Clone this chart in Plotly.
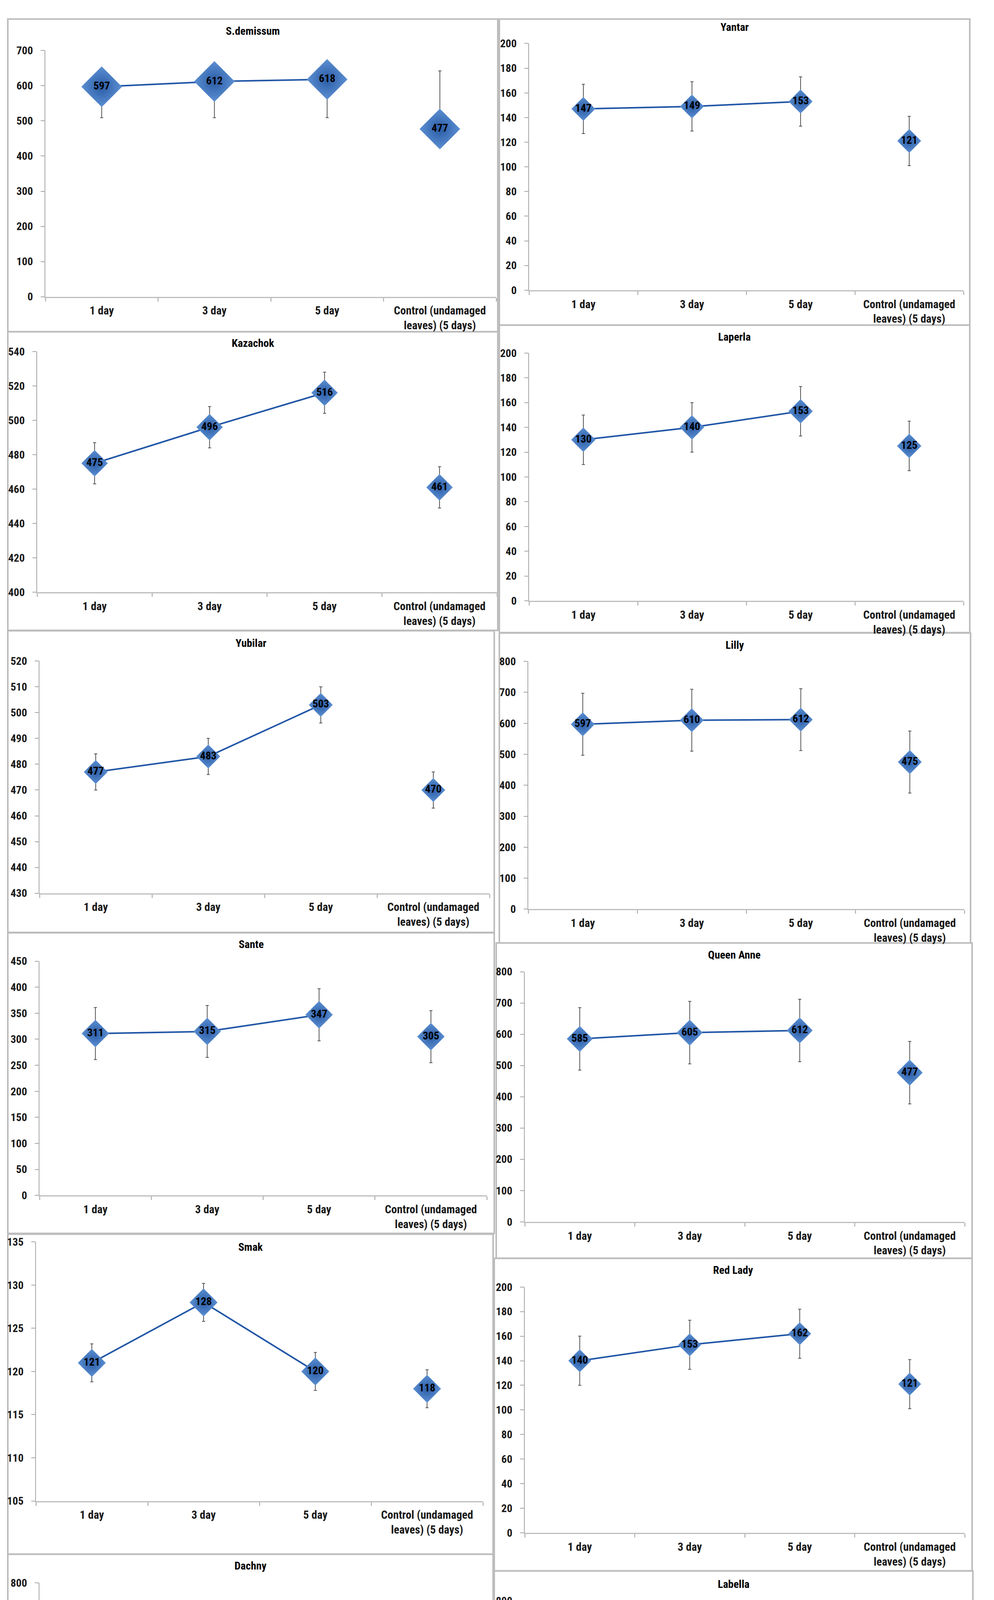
import plotly.graph_objects as go

# ---------------- data ----------------
categories = ["1 day", "3 day", "5 day", "Control (undamaged<br>leaves) (5 days)"]

panel_names = ["S.demissum", "Yantar", "Kazachok", "Laperla", "Yubilar", "Lilly", "Sante",
               "Queen Anne", "Smak", "Red Lady", "Dachny", "Labella", "Avgustin", "Belmonda"]

s_demissum = [597, 612, 618, 477]
yantar = [147, 149, 153, 121]
kazachok = [475, 496, 516, 461]
laperla = [130, 140, 153, 125]
yubilar = [477, 483, 503, 470]
lilly = [597, 610, 612, 475]
sante = [311, 315, 347, 305]
queen_anne = [585, 605, 612, 477]
smak = [121, 128, 120, 118]
red_lady = [140, 153, 162, 121]
dachny = [587, 604, 615, 461]
labella = [597, 618, 639, 475]
avgustin = [563, 602, 610, 470]
belmonda = [612, 624, 650, 477]

# error bars (plus / minus)
err_plus_s_demissum = [0, 0, 0, 165]
err_minus_s_demissum = [88, 103, 109, 0]
err_yantar = [20, 20, 20, 20]
err_kazachok = [12, 12, 12, 12]
err_laperla = [20, 20, 20, 20]
err_yubilar = [7, 7, 7, 7]
err_lilly = [100, 100, 100, 100]
err_sante = [50, 50, 50, 50]
err_queen_anne = [100, 100, 100, 100]
err_smak = [2.2, 2.2, 2.2, 2.2]
err_red_lady = [20, 20, 20, 20]
err_dachny = [100, 100, 100, 100]
err_labella = [100, 100, 100, 100]
err_avgustin = [100, 100, 100, 100]
err_belmonda = [100, 100, 100, 100]

# y-axis ranges and tick steps
y_min = [0, 0, 400, 0, 430, 0, 0, 0, 105, 0, 0, 0, 0, 0]
y_max = [700, 200, 540, 200, 520, 800, 450, 800, 135, 200, 800, 800, 800, 800]
y_step = [100, 20, 20, 20, 10, 100, 50, 100, 5, 20, 100, 100, 100, 100]

values = [s_demissum, yantar, kazachok, laperla, yubilar, lilly, sante,
          queen_anne, smak, red_lady, dachny, labella, avgustin, belmonda]
err_plus = [err_plus_s_demissum, err_yantar, err_kazachok, err_laperla, err_yubilar, err_lilly,
            err_sante, err_queen_anne, err_smak, err_red_lady, err_dachny, err_labella,
            err_avgustin, err_belmonda]
err_minus = [err_minus_s_demissum, err_yantar, err_kazachok, err_laperla, err_yubilar, err_lilly,
             err_sante, err_queen_anne, err_smak, err_red_lady, err_dachny, err_labella,
             err_avgustin, err_belmonda]

# ---------------- geometry (page pixels) ----------------
OFF = 8
W = 2528
H = 5640


def fx(X):
    return (X - OFF) / W


def fy(Y):
    return 1 - (Y - OFF) / H


# plot_left, plot_right, plot_top, plot_bottom, title_y, border (x0, x1, y0, y1), marker size
geom = [
    (116, 1270, 114, 748, 64, (20, 1274, 33, 838), 80),      # S.demissum
    (1354, 2466, 96, 731, 54, (1278, 2482, 33, 821), 47),    # Yantar
    (95, 1272, 889, 1509, 868, (20, 1274, 838, 1607), 52),   # Kazachok
    (1354, 2466, 893, 1531, 851, (1278, 2482, 821, 1613), 48),  # Laperla
    (101, 1253, 1686, 2284, 1640, (20, 1265, 1608, 2385), 47),  # Yubilar
    (1352, 2468, 1687, 2325, 1645, (1278, 2484, 1614, 2412), 47),  # Lilly
    (101, 1246, 2459, 3062, 2416, (20, 1265, 2386, 3160), 54),  # Sante
    (1343, 2469, 2486, 3130, 2443, (1270, 2488, 2412, 3224), 51),  # Queen Anne
    (92, 1236, 3182, 3849, 3195, (20, 1262, 3162, 3986), 55),  # Smak
    (1343, 2469, 3298, 3931, 3254, (1265, 2488, 3224, 4029), 45),  # Red Lady
    (101, 1241, 4060, 4716, 4016, (20, 1262, 3986, 4816), 49),  # Dachny
    (1343, 2490, 4106, 4710, 4063, (1265, 2490, 4029, 4811), 57),  # Labella
    (101, 1241, 4894, 5540, 4850, (20, 1257, 4816, 5637), 42),  # Avgustin
    (1343, 2490, 4894, 5526, 4850, (1265, 2490, 4811, 5634), 59),  # Belmonda
]

FONT = "Liberation Sans Narrow, Arial Narrow, Roboto Condensed, Liberation Sans, Arial, sans-serif"
MARKER_COLOR = "#5C90D2"
MARKER_EDGE = "#2A5BA6"
LINE_COLOR = "#2156A6"
ERR_COLOR = "#555555"
AXIS_COLOR = "#A6A6A6"
BORDER_COLOR = "#BDBDBD"

fig = go.Figure()
shapes = []
annotations = []
layout_axes = {}

for i, name in enumerate(panel_names):
    n = i + 1
    xa = "x" if n == 1 else f"x{n}"
    ya = "y" if n == 1 else f"y{n}"
    L, R, T, B, ty, border, msize = geom[i]
    vals = values[i]
    ep = err_plus[i]
    em = err_minus[i]

    marker = dict(symbol="diamond", size=msize, color=MARKER_COLOR,
                  gradient=dict(type="radial", color=MARKER_EDGE),
                  line=dict(width=0))
    textfont = dict(family=FONT, size=28, color="#000000", weight="bold")

    fig.add_trace(go.Scatter(
        x=categories[:3], y=vals[:3], xaxis=xa, yaxis=ya,
        mode="lines+markers+text", text=[str(v) for v in vals[:3]],
        textposition="middle center", textfont=textfont,
        line=dict(color=LINE_COLOR, width=4), marker=marker,
        error_y=dict(type="data", symmetric=False, array=ep[:3], arrayminus=em[:3],
                     color=ERR_COLOR, thickness=2, width=4),
        cliponaxis=False, showlegend=False, hoverinfo="skip"))
    fig.add_trace(go.Scatter(
        x=categories[3:], y=vals[3:], xaxis=xa, yaxis=ya,
        mode="markers+text", text=[str(v) for v in vals[3:]],
        textposition="middle center", textfont=textfont, marker=marker,
        error_y=dict(type="data", symmetric=False, array=ep[3:], arrayminus=em[3:],
                     color=ERR_COLOR, thickness=2, width=4),
        cliponaxis=False, showlegend=False, hoverinfo="skip"))

    xkey = "xaxis" if n == 1 else f"xaxis{n}"
    ykey = "yaxis" if n == 1 else f"yaxis{n}"
    layout_axes[xkey] = dict(
        domain=[fx(L), fx(R)], anchor=ya, type="category",
        categoryorder="array", categoryarray=categories, range=[-0.5, 3.5],
        tickson="boundaries", ticks="outside", ticklen=9, tickwidth=3,
        tickcolor=BORDER_COLOR, showline=True, linecolor=BORDER_COLOR, linewidth=3,
        showgrid=False, zeroline=False, ticklabelstandoff=8,
        tickfont=dict(family=FONT, size=29, color="#1a1a1a", weight="bold"))
    layout_axes[ykey] = dict(
        domain=[fy(B), fy(T)], anchor=xa, range=[y_min[i], y_max[i]],
        tick0=y_min[i], dtick=y_step[i], ticks="outside", ticklen=10, tickwidth=2,
        tickcolor=AXIS_COLOR, showline=True, linecolor=AXIS_COLOR, linewidth=2,
        showgrid=False, zeroline=False, ticklabelstandoff=14,
        tickfont=dict(family=FONT, size=28, color="#1a1a1a", weight="bold"))

    bx0, bx1, by0, by1 = border
    shapes.append(dict(type="rect", xref="paper", yref="paper",
                       x0=fx(bx0), x1=fx(bx1), y0=fy(by1), y1=fy(by0),
                       line=dict(color=BORDER_COLOR, width=4), layer="below"))
    annotations.append(dict(text=name, xref="paper", yref="paper",
                            x=fx((bx0 + bx1) / 2), y=fy(ty), xanchor="center", yanchor="middle",
                            showarrow=False,
                            font=dict(family=FONT, size=28, color="#000000", weight="bold")))

fig.update_layout(
    width=W, height=H, margin=dict(l=0, r=0, t=0, b=0),
    paper_bgcolor="white", plot_bgcolor="white",
    shapes=shapes, annotations=annotations, showlegend=False,
    font=dict(family=FONT, size=28),
    **layout_axes)

fig.write_html("out.html")
